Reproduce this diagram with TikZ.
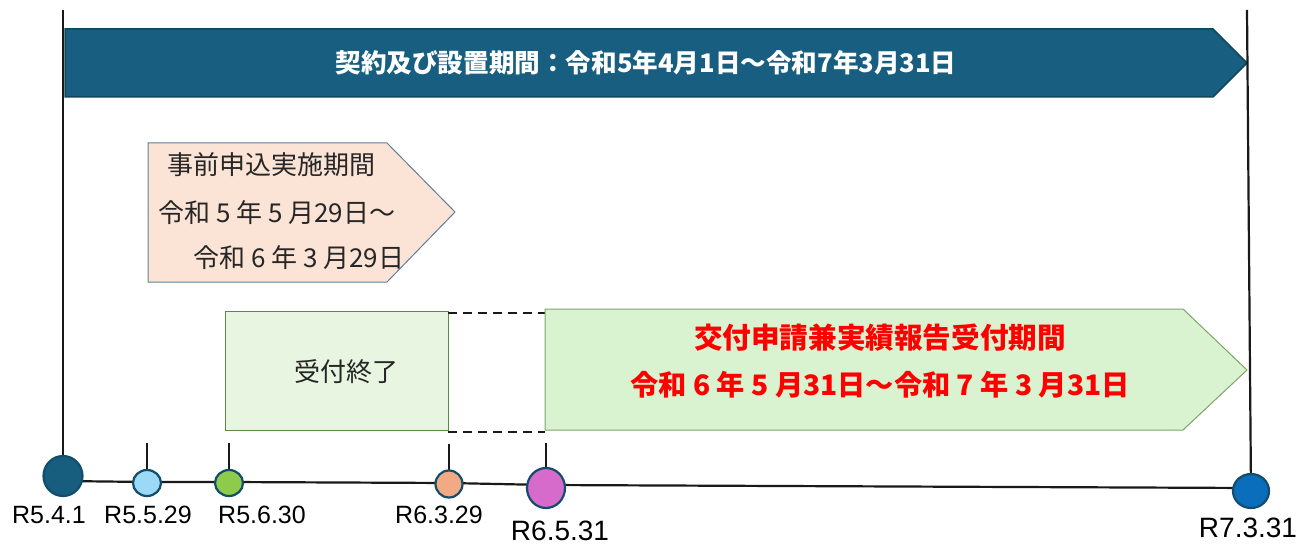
\documentclass[tikz,border=0pt]{standalone}
\usepackage{fontspec}
\setmainfont{Liberation Sans}
\newfontfamily\jp{Noto Sans CJK JP}
\definecolor{barfill}{HTML}{175E80}
\definecolor{bardraw}{HTML}{0F4660}
\definecolor{pinkfill}{HTML}{FBE4D6}
\definecolor{pinkdraw}{HTML}{5E7F9C}
\definecolor{gboxfill}{HTML}{E7F5E1}
\definecolor{gboxdraw}{HTML}{5C8A45}
\definecolor{gpentfill}{HTML}{D9F2D0}
\definecolor{gpentdraw}{HTML}{7FA36A}
\definecolor{txtgray}{HTML}{262626}
\definecolor{ringc}{HTML}{124E6C}
\definecolor{cA}{HTML}{175E7E}
\definecolor{cB}{HTML}{9CD9F7}
\definecolor{cC}{HTML}{8FCB4A}
\definecolor{cD}{HTML}{F2AA84}
\definecolor{cE}{HTML}{D66BCB}
\definecolor{cF}{HTML}{0A6EBD}
\usetikzlibrary{shapes.geometric}
\begin{document}
\begin{tikzpicture}[x=1pt,y=-1pt,
  jptext/.style={inner sep=0pt, text=txtgray, font=\jp\fontsize{26}{30}\selectfont},
  datelabel/.style={inner sep=0pt, text=black, font=\fontsize{25}{30}\selectfont},
  biglabel/.style={inner sep=0pt, text=black, font=\fontsize{28}{32}\selectfont},
  dot/.style={ellipse, draw=ringc, line width=2.2pt, inner sep=0pt},
  axis/.style={line width=2.2pt, draw=black!90},
  dashline/.style={line width=2.2pt, draw=black!90, dash pattern=on 9pt off 6pt}
]
\useasboundingbox (0,0) rectangle (1303,545);

% centres of the timeline dots
\coordinate (pA) at (63,476);
\coordinate (pB) at (147,483);
\coordinate (pC) at (229,483);
\coordinate (pD) at (449,484);
\coordinate (pE) at (546,488);
\coordinate (pF) at (1251,491);
% points of the timeline
\coordinate (qA) at (63,481);
\coordinate (qB) at (147,482);
\coordinate (qC) at (229,482);
\coordinate (qD) at (449,483);
\coordinate (qE) at (546,485);
\coordinate (qF) at (1251,488);

% top bar
\draw[fill=barfill, draw=bardraw, line width=1.5pt]
  (65,29) -- (1213,29) -- (1247,63) -- (1213,97) -- (65,97) -- cycle;
\node[inner sep=0pt, text=white, font=\jp\bfseries\fontsize{25.6}{30}\selectfont]
  (bartext) at (646,63) {契約及び設置期間：令和5年4月1日～令和7年3月31日};

% pink pentagon
\draw[fill=pinkfill, draw=pinkdraw, line width=1pt]
  (148,143) -- (387,143) -- (455,212) -- (387,282) -- (148,282) -- cycle;
\node[jptext, anchor=west] (p1) at (167,165) {事前申込実施期間};
\node[jptext, anchor=west] (p2) at (158,213) {令和 5 年 5 月29日～};
\node[jptext, anchor=west] (p3) at (193,258) {令和 6 年 3 月29日};

% closed box
\draw[fill=gboxfill, draw=gboxdraw, line width=1pt] (225,311) rectangle (448,430);
\node[jptext] (closed) at (346,372) {受付終了};

% dashed links
\coordinate (d1a) at (448,313);
\coordinate (d1b) at (545,313);
\coordinate (d2a) at (448,432);
\coordinate (d2b) at (545,432);
\draw[dashline] (d1a) -- (d1b);
\draw[dashline] (d2a) -- (d2b);

% green pentagon
\draw[fill=gpentfill, draw=gpentdraw, line width=1pt]
  (545,309) -- (1183,309) -- (1247,370) -- (1183,430) -- (545,430) -- cycle;
\node[inner sep=0pt, text=red, font=\jp\bfseries\fontsize{28.6}{32}\selectfont]
  (r1) at (880,338) {交付申請兼実績報告受付期間};
\node[inner sep=0pt, text=red, font=\jp\bfseries\fontsize{28.2}{32}\selectfont]
  (r2) at (880,385) {令和 6 年 5 月31日～令和 7 年 3 月31日};

% vertical lines and ticks
\coordinate (topL) at (63,10);
\coordinate (topR) at (1247,10);
\coordinate (tB) at (147,443);
\coordinate (tC) at (229,443);
\coordinate (tD) at (449,444);
\coordinate (tE) at (546,443);
\draw[axis] (topL) -- (pA);
\draw[axis] (topR) -- (pF);
\draw[axis] (tB) -- (pB);
\draw[axis] (tC) -- (pC);
\draw[axis] (tD) -- (pD);
\draw[axis] (tE) -- (pE);

% timeline
\draw[axis] (qA) -- (qB) -- (qC) -- (qD) -- (qE) -- (qF);

% dots
\node[dot, fill=cA, draw=ringc, minimum width=39pt, minimum height=40pt] (dA) at (pA) {};
\node[dot, fill=cB, minimum width=28pt, minimum height=26pt] (dB) at (pB) {};
\node[dot, fill=cC, minimum width=28pt, minimum height=26pt] (dC) at (pC) {};
\node[dot, fill=cD, minimum width=27pt, minimum height=27pt] (dD) at (pD) {};
\node[dot, fill=cE, minimum width=38pt, minimum height=40pt] (dE) at (pE) {};
\node[dot, fill=cF, draw=ringc, minimum width=36pt, minimum height=34pt] (dF) at (pF) {};

% date labels
\node[datelabel] (lA) at (49,515) {R5.4.1};
\node[datelabel] (lB) at (148,515) {R5.5.29};
\node[datelabel] (lC) at (262,515) {R5.6.30};
\node[datelabel] (lD) at (439,515) {R6.3.29};
\node[biglabel] (lE) at (560,531) {R6.5.31};
\node[biglabel] (lF) at (1248,528) {R7.3.31};
\end{tikzpicture}
\end{document}
